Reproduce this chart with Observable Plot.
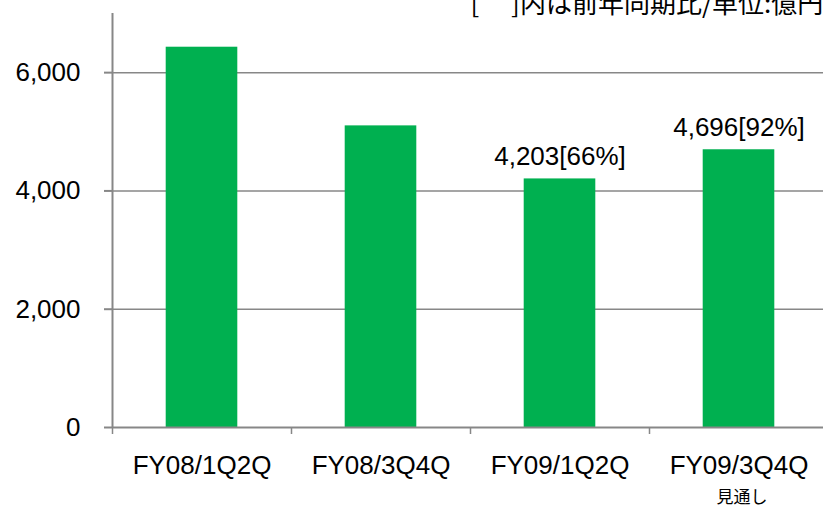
<!DOCTYPE html>
<html>
<head>
<meta charset="utf-8">
<script src="https://cdn.jsdelivr.net/npm/d3@7"></script>
<script src="https://cdn.jsdelivr.net/npm/@observablehq/plot@0.6"></script>
<style>
  html, body { margin: 0; padding: 0; background: #fff; overflow: hidden; }
  svg { display: block; overflow: hidden; }
</style>
</head>
<body>
<div id="chart"></div>
<script>
const categories = ["FY08/1Q2Q", "FY08/3Q4Q", "FY09/1Q2Q", "FY09/3Q4Q"];
const values = [6430, 5100, 4203, 4696];
const valueLabels = ["", "", "4,203[66%]", "4,696[92%]"];
const subLabels = ["", "", "", "見通し"];
const yTicks = [0, 2000, 4000, 6000];
const note = "[　 ]内は前年同期比/単位:億円";

const data = categories.map((c, i) => ({i, c, v: values[i], label: valueLabels[i], sub: subLabels[i]}));
const grey = "#878787";
const font = "Liberation Sans, Arial, sans-serif";

const chart = Plot.plot({
  width: 823,
  height: 510,
  marginLeft: 112,
  marginRight: -5,
  marginTop: 13,
  marginBottom: 83,
  style: {fontFamily: font, fontSize: "26px", color: "#000", background: "#fff"},
  x: {type: "linear", domain: [0, categories.length], label: null},
  y: {domain: [0, 7000], label: null},
  marks: [
    Plot.ruleY(yTicks.filter(d => d > 0), {stroke: grey, strokeWidth: 1.5}),
    Plot.rectY(data, {x1: "i", x2: d => d.i + 1, y: "v", fill: "#00B050", insetLeft: 53.7, insetRight: 53.7}),
    Plot.ruleX([0], {stroke: grey, strokeWidth: 2}),
    Plot.ruleY([0], {stroke: grey, strokeWidth: 2}),
    Plot.axisY({ticks: yTicks, tickSize: 8, tickPadding: 24, stroke: grey, strokeWidth: 2,
      tickFormat: d3.format(","), fontSize: 26, label: null}),
    Plot.axisX({ticks: d3.range(categories.length), tickSize: 7, stroke: grey, strokeWidth: 1.5,
      tickFormat: () => "", label: null}),
    Plot.axisX({ticks: data.map(d => d.i + 0.5), tickSize: 0, tickPadding: 28,
      tickFormat: t => categories[Math.floor(t)], fontSize: 26, label: null}),
    Plot.text(data.filter(d => d.label), {x: d => d.i + 0.5, y: "v", text: "label",
      lineAnchor: "bottom", dy: -14, fontSize: 26, fill: "#000"}),
    Plot.text(data.filter(d => d.sub), {x: d => d.i + 0.5, text: "sub", frameAnchor: "bottom",
      lineAnchor: "middle", dy: 70, dx: 3, fontSize: 17, fill: "#000",
      fontFamily: "Noto Sans CJK JP, sans-serif"}),
    Plot.text([note], {frameAnchor: "top-right", textAnchor: "start", lineAnchor: "bottom",
      dx: -358, dy: -1, fontSize: 26, fill: "#000", fontFamily: "Noto Sans CJK JP, sans-serif"})
  ]
});
document.getElementById("chart").appendChild(chart);
</script>
</body>
</html>
